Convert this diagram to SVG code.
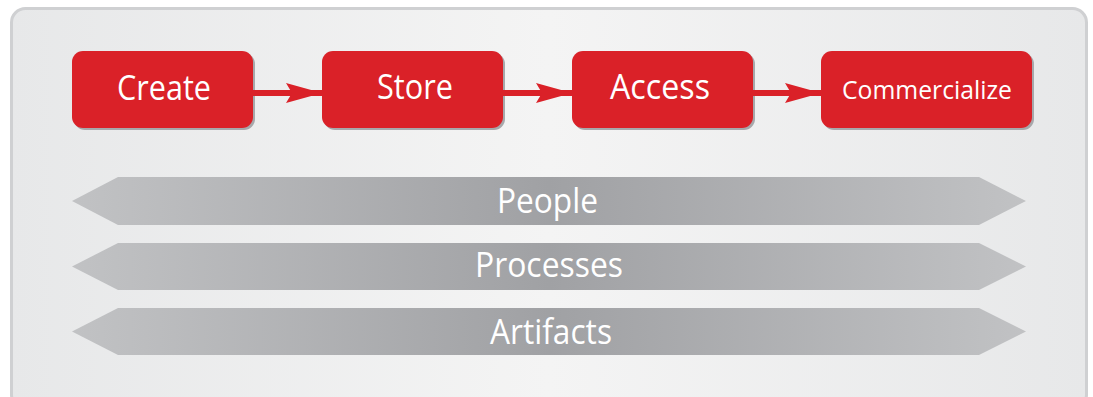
<svg xmlns="http://www.w3.org/2000/svg" width="1093" height="397" viewBox="0 0 1093 397">
<defs>
<linearGradient id="bg" x1="0" y1="0" x2="1" y2="0">
<stop offset="0" stop-color="#e7e8e9"/>
<stop offset="0.5" stop-color="#f4f4f4"/>
<stop offset="1" stop-color="#e7e8e9"/>
</linearGradient>
<linearGradient id="bar" gradientUnits="userSpaceOnUse" x1="72" y1="0" x2="1026" y2="0">
<stop offset="0" stop-color="#c1c2c4"/>
<stop offset="0.5" stop-color="#a0a1a4"/>
<stop offset="1" stop-color="#c1c2c4"/>
</linearGradient>
<marker id="ah" markerUnits="userSpaceOnUse" markerWidth="36" markerHeight="20" refX="36" refY="10" orient="auto">
<path d="M0,0 L36,10 L0,20 L6,10 Z" fill="#da2128"/>
</marker>
</defs>
<style>
.box{fill:#da2128}
.sh{fill:#a7a8ab}
.t{font-family:"Open Sans","Liberation Sans",sans-serif;font-weight:400;fill:#fff;text-anchor:middle}
.bt{font-size:34px}
.bar{fill:url(#bar)}
.con{stroke:#da2128;stroke-width:6;fill:none}
</style>
<rect x="11.5" y="8.5" width="1075" height="400" rx="14" fill="url(#bg)" stroke="#cfd0d2" stroke-width="3"/>
<g id="create">
<rect class="sh" x="74" y="53" width="181" height="77" rx="11"/>
<rect class="box" x="72" y="51" width="181" height="77" rx="11"/>
<text class="t bt" x="164" y="100" textLength="94" lengthAdjust="spacingAndGlyphs">Create</text>
</g>
<g id="store">
<rect class="sh" x="324" y="53" width="181" height="77" rx="11"/>
<rect class="box" x="322" y="51" width="181" height="77" rx="11"/>
<text class="t bt" x="415" y="99" textLength="76" lengthAdjust="spacingAndGlyphs">Store</text>
</g>
<g id="access">
<rect class="sh" x="574" y="53" width="181" height="77" rx="11"/>
<rect class="box" x="572" y="51" width="181" height="77" rx="11"/>
<text class="t bt" x="660" y="99" textLength="100" lengthAdjust="spacingAndGlyphs">Access</text>
</g>
<g id="commercialize">
<rect class="sh" x="823" y="53" width="211" height="77" rx="11"/>
<rect class="box" x="821" y="51" width="211" height="77" rx="11"/>
<text class="t" font-size="26" x="927" y="99" textLength="170" lengthAdjust="spacingAndGlyphs">Commercialize</text>
</g>
<g id="connectors">
<line class="con" x1="253" y1="93" x2="322" y2="93" marker-end="url(#ah)"/>
<line class="con" x1="503" y1="93" x2="572" y2="93" marker-end="url(#ah)"/>
<line class="con" x1="753" y1="93" x2="821" y2="93" marker-end="url(#ah)"/>
</g>
<g id="people">
<polygon class="bar" points="72,201 118,177 979,177 1026,201 979,225 118,225"/>
<text class="t bt" x="547.5" y="213" textLength="101" lengthAdjust="spacingAndGlyphs">People</text>
</g>
<g id="processes">
<polygon class="bar" points="72,266.5 118,243 979,243 1026,266.5 979,290 118,290"/>
<text class="t bt" x="549" y="277" textLength="148" lengthAdjust="spacingAndGlyphs">Processes</text>
</g>
<g id="artifacts">
<polygon class="bar" points="72,331.5 118,308 979,308 1026,331.5 979,355 118,355"/>
<text class="t bt" x="551" y="344" textLength="122" lengthAdjust="spacingAndGlyphs">Artifacts</text>
</g>
</svg>
